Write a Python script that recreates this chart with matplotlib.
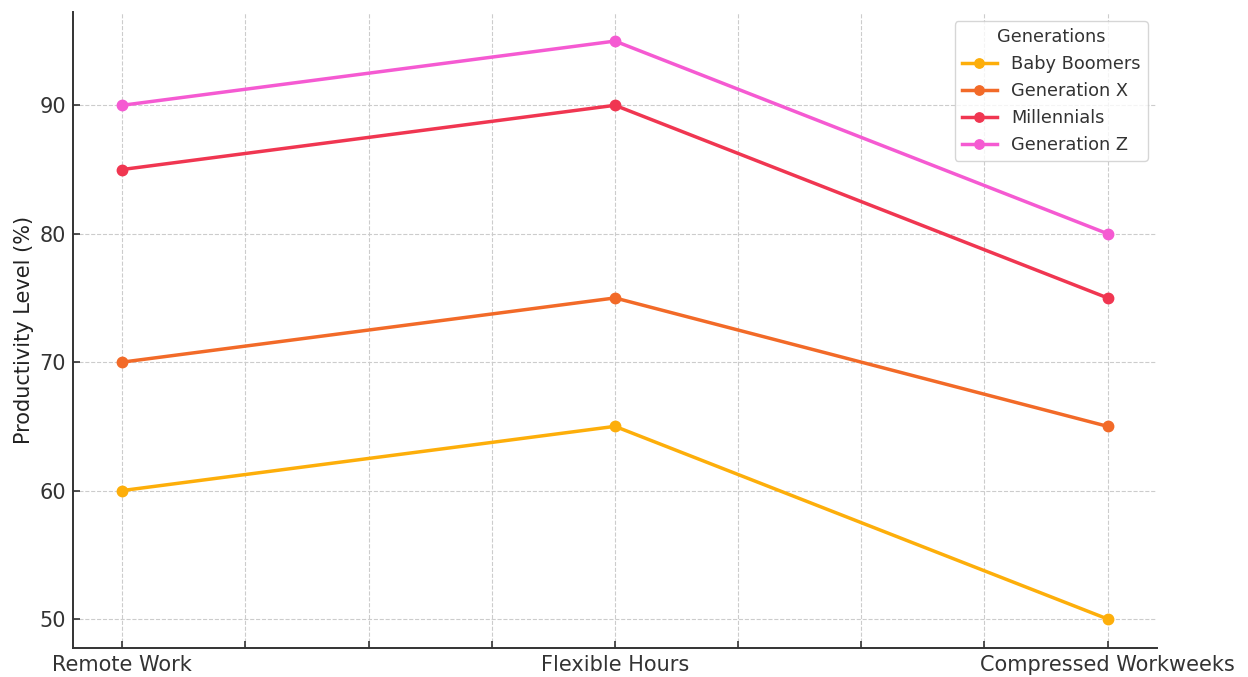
import matplotlib.pyplot as plt
import numpy as np

# categories and values
arrangements = ["Remote Work", "Flexible Hours", "Compressed Workweeks"]
generations = ["Baby Boomers", "Generation X", "Millennials", "Generation Z"]
baby_boomers = [60, 65, 50]
generation_x = [70, 75, 65]
millennials = [85, 90, 75]
generation_z = [90, 95, 80]
colors = ["#FDAE0A", "#F26A28", "#F03651", "#F55AD2"]

series = [baby_boomers, generation_x, millennials, generation_z]

fig = plt.figure(figsize=(12.48, 6.77), dpi=100)
ax = fig.add_axes([0.0585, 0.043, 0.8685, 0.939])

x = np.arange(len(arrangements))
for name, vals, c in zip(generations, series, colors):
    ax.plot(x, vals, marker="o", color=c, linewidth=2.5, markersize=7.5, label=name)

# ticks every quarter step, labels only on the categories
ticks = np.arange(0, 2.01, 0.25)
ax.set_xticks(ticks)
ax.set_xticklabels([arrangements[int(t)] if t == int(t) else "" for t in ticks])
ax.set_yticks([50, 60, 70, 80, 90])

ax.tick_params(direction="in", length=5, width=1.2, colors="#333333", labelsize=15, pad=5)
ax.set_ylabel("Productivity Level (%)", fontsize=15, color="#222222")
ax.grid(True, linestyle="--", color="#cccccc", linewidth=0.8)

for s in ["top", "right"]:
    ax.spines[s].set_visible(False)
for s in ["left", "bottom"]:
    ax.spines[s].set_color("#333333")
    ax.spines[s].set_linewidth(1.4)

leg = ax.legend(title="Generations", loc="upper right", fontsize=12.8, title_fontsize=12.8,
                frameon=True, borderpad=0.4, handlelength=2.0, labelspacing=0.5,
                markerscale=0.9)
leg.get_frame().set_edgecolor("#cccccc")
for t in leg.get_texts():
    t.set_color("#333333")
leg.get_title().set_color("#333333")

fig.savefig("out.png", dpi=100)
